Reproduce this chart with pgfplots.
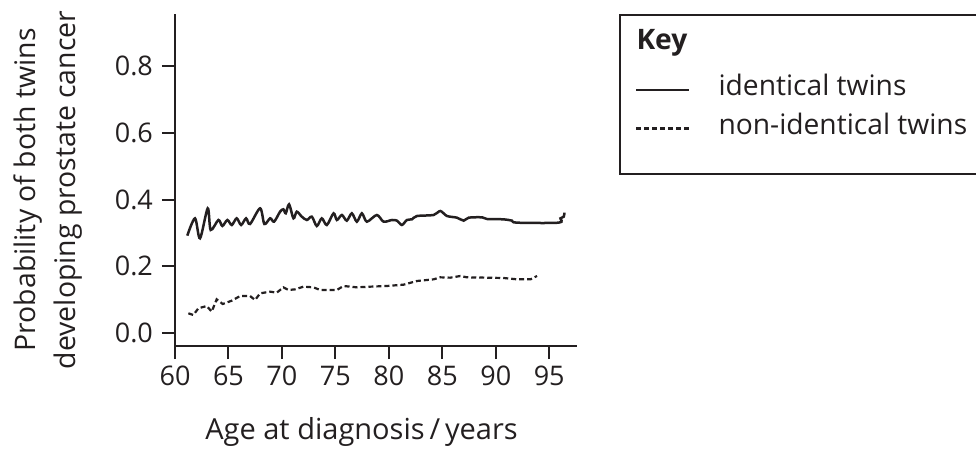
\documentclass[border=0pt]{standalone}
\usepackage{pgfplots}
\pgfplotsset{compat=1.18}
\usepackage{fontspec}
\setmainfont{Open Sans}
\definecolor{ink}{HTML}{231F20}

\pgfplotstableread{
age p
61.15 0.292
61.87 0.344
62.34 0.284
63.06 0.374
63.34 0.309
64.06 0.339
64.43 0.321
64.90 0.339
65.31 0.324
65.77 0.344
66.18 0.324
66.65 0.344
67.02 0.327
67.96 0.374
68.36 0.327
68.90 0.344
69.27 0.334
69.83 0.364
70.14 0.371
70.36 0.359
70.67 0.386
71.08 0.344
71.39 0.364
71.86 0.349
72.33 0.339
72.80 0.349
73.26 0.321
73.73 0.344
74.20 0.324
74.83 0.359
75.14 0.339
75.61 0.354
76.07 0.337
76.54 0.359
77.01 0.334
77.48 0.359
77.95 0.334
78.88 0.354
79.51 0.334
80.29 0.339
80.76 0.337
81.22 0.324
81.69 0.339
82.16 0.341
82.63 0.351
84.19 0.354
84.81 0.366
85.44 0.351
86.37 0.346
87.00 0.337
87.47 0.346
88.72 0.347
89.18 0.342
90.74 0.341
91.52 0.337
91.99 0.331
95.89 0.331
96.05 0.344
96.36 0.349
96.42 0.361
}\identical

\pgfplotstableread{
age p
61.25 0.059
61.72 0.054
62.18 0.074
62.97 0.081
63.43 0.064
63.90 0.101
64.46 0.087
65.31 0.097
66.09 0.111
67.02 0.111
67.49 0.099
67.96 0.119
68.90 0.124
69.52 0.121
70.14 0.137
70.61 0.129
71.24 0.131
72.01 0.139
72.95 0.137
73.58 0.129
75.14 0.129
75.76 0.141
77.01 0.137
78.26 0.139
79.82 0.141
81.38 0.145
82.63 0.156
84.19 0.161
84.81 0.167
85.75 0.166
86.69 0.171
87.31 0.167
89.18 0.166
90.74 0.165
91.99 0.161
93.24 0.161
93.86 0.171
}\nonidentical

\begin{document}
\begin{tikzpicture}
\useasboundingbox (0,0) rectangle (488pt,225pt);
\begin{axis}[
  at={(87.5pt,52pt)}, anchor=south west,
  scale only axis, width=201pt, height=166pt,
  xmin=60, xmax=97.6, ymin=-0.039, ymax=0.957,
  axis lines=left,
  axis line style={-, line width=1pt, draw=ink},
  xtick={60,65,70,75,80,85,90,95},
  ytick={0,0.2,0.4,0.6,0.8},
  tick align=outside,
  major tick length=6.5pt,
  tick style={line width=1pt, draw=ink},
  scaled y ticks=false,
  tick label style={font=\fontsize{13.5}{16}\selectfont, text=ink},
  /pgf/number format/assume math mode=true,
  yticklabel style={xshift=-1pt, /pgf/number format/.cd, fixed, fixed zerofill, precision=1},
  xlabel={Age at diagnosis\,/\,years},
  xlabel style={at={(axis description cs:0.464,-0.283)}, anchor=base,
    font=\fontsize{14.5}{17}\selectfont, text=ink},
  ylabel={Probability of both twins\\developing prostate cancer},
  ylabel style={at={(axis description cs:-0.316,0.47)}, anchor=center,
    align=center, font=\fontsize{14.2}{20}\selectfont, text=ink},
  legend image code/.code={\draw[#1] (0pt,0pt) -- (26.5pt,0pt);},
  legend cell align=left,
  legend style={at={(1.107,0.997)}, anchor=north west, draw=ink,
    line width=0.8pt, inner xsep=7.5pt, inner ysep=8.5pt, outer sep=0pt,
    row sep=7.25pt, column sep=14pt, text=ink,
    font=\fontsize{14.1}{16}\selectfont,
    nodes={inner sep=0pt, text height=9pt, text depth=3pt, anchor=west}},
]
\addlegendimage{empty legend}
\addlegendentry[text depth=6.75pt]{\makebox[0pt][l]{\kern-41.5pt\textbf{Key}}}
\addplot[ink, line width=1.25pt, smooth, tension=0.5] table[x=age, y=p] {\identical};
\addlegendentry{identical twins}
\addplot[ink, line width=1.1pt, dash pattern=on 2.5pt off 1.5pt] table[x=age, y=p] {\nonidentical};
\addlegendentry{non-identical twins}
\addlegendimage{empty legend}
\addlegendentry[text height=0pt, text depth=0pt]{}
\end{axis}
\end{tikzpicture}
\end{document}
